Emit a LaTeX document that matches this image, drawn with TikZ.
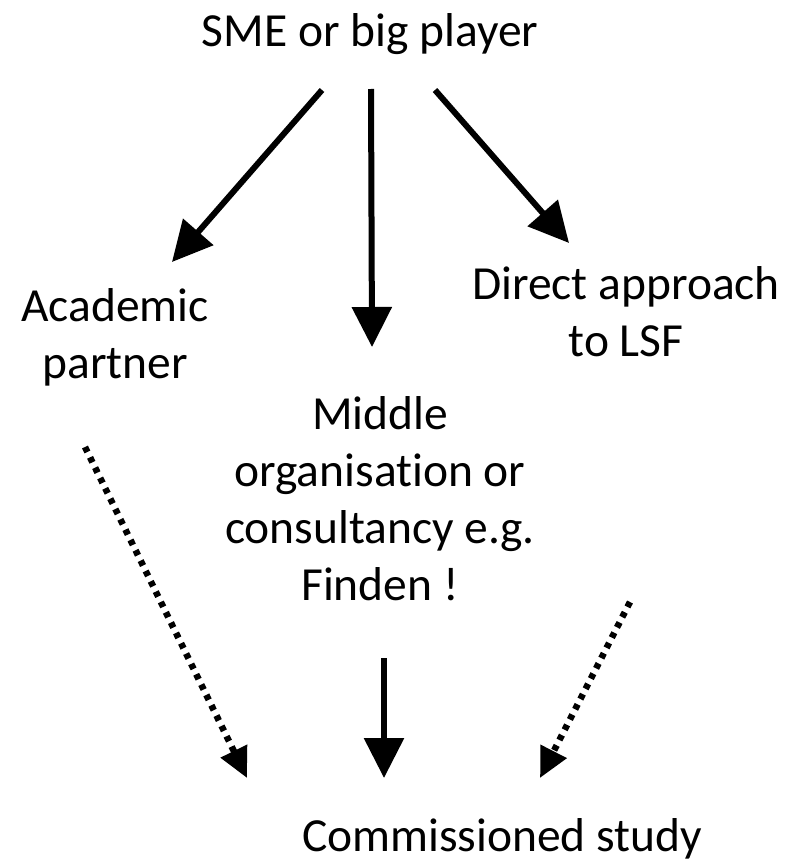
\documentclass[tikz,border=0pt]{standalone}
\usepackage{fontspec}
\setmainfont[Ligatures=NoCommon,RawFeature={-liga;-calt}]{Carlito}
\usetikzlibrary{arrows.meta}
\begin{document}
\begin{tikzpicture}[x=1pt,y=-1pt,
  lbl/.style={inner sep=0pt,align=center,font=\fontsize{47.5}{57}\selectfont},
  solidarrow/.style={line width=6pt,-{Triangle[length=40pt,width=39pt]}},
  dotarrow/.style={line width=6.5pt,dash pattern=on 5.5pt off 6pt,-{Triangle[length=30pt,width=28pt]}}]
\useasboundingbox (0,0) rectangle (802,864);
\node[lbl,anchor=base] (sme) at (370,47) {SME or big player};
\node[lbl,anchor=base] (acad) at (115,378) {Academic\\partner};
\node[lbl,anchor=base] (direct) at (626,356) {Direct approach\\to LSF};
\node[lbl,anchor=base] (middle) at (380,600) {Middle\\organisat\kern0pt ion or\\consultancy e.g.\\Finden !};
\node[lbl,anchor=base] (study) at (502,851) {Commissioned study};
\coordinate (s1) at (322,90);  \coordinate (t1) at (172,262);
\coordinate (s2) at (371,89);  \coordinate (t2) at (372,347);
\coordinate (s3) at (435,90);  \coordinate (t3) at (569,243);
\coordinate (s4) at (384,658); \coordinate (t4) at (384,778);
\coordinate (s5) at (85,447);  \coordinate (t5) at (247,778);
\coordinate (s6) at (630,602); \coordinate (t6) at (540,778);
\draw[solidarrow] (s1) -- (t1);
\draw[solidarrow] (s2) -- (t2);
\draw[solidarrow] (s3) -- (t3);
\draw[solidarrow] (s4) -- (t4);
\draw[dotarrow] (s5) -- (t5);
\draw[dotarrow] (s6) -- (t6);
\end{tikzpicture}
\end{document}
